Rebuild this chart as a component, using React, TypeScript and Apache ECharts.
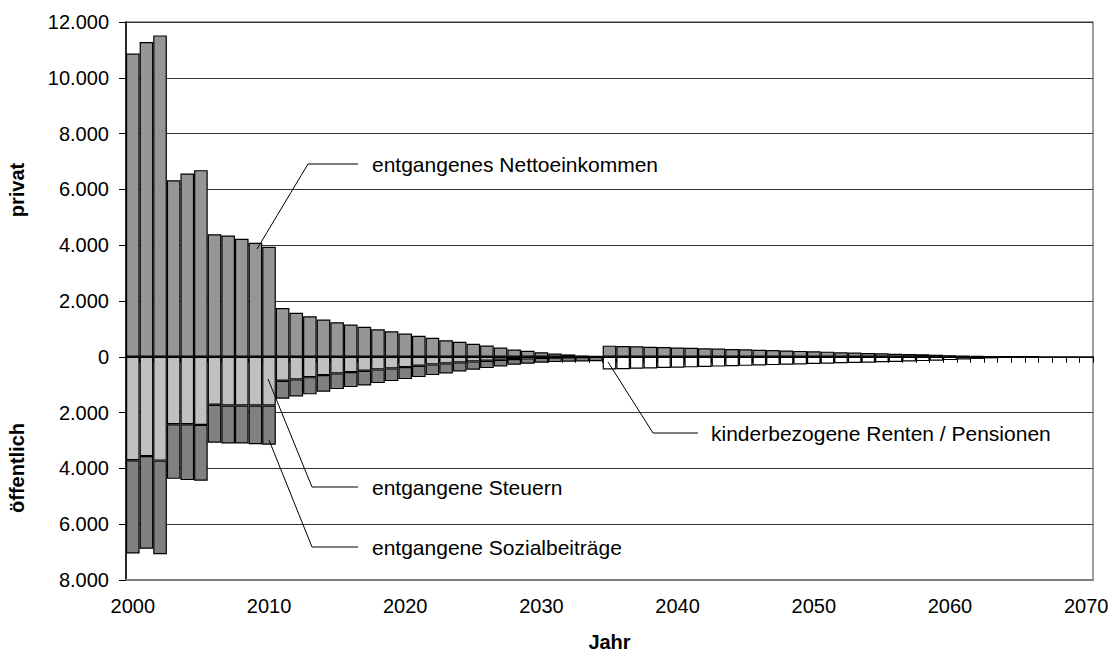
import React, { useEffect, useRef } from "react";
import * as echarts from "echarts";

const years = [
  "2000", "2001", "2002", "2003", "2004", "2005", "2006", "2007", "2008", "2009",
  "2010", "2011", "2012", "2013", "2014", "2015", "2016", "2017", "2018", "2019",
  "2020", "2021", "2022", "2023", "2024", "2025", "2026", "2027", "2028", "2029",
  "2030", "2031", "2032", "2033", "2034", "2035", "2036", "2037", "2038", "2039",
  "2040", "2041", "2042", "2043", "2044", "2045", "2046", "2047", "2048", "2049",
  "2050", "2051", "2052", "2053", "2054", "2055", "2056", "2057", "2058", "2059",
  "2060", "2061", "2062", "2063", "2064", "2065", "2066", "2067", "2068", "2069",
  "2070",
];

// private side (positive), from 2000
const nettoeinkommen = [
  10870, 11280, 11520, 6330, 6570, 6690, 4395, 4350, 4230, 4085,
  3945, 1745, 1577, 1455, 1337, 1240, 1158, 1075, 990, 918,
  835, 753, 681, 595, 538, 466, 405, 333, 262, 215,
  165, 120, 85, 50, 25,
];

// public side (shown below zero), from 2000
const steuern = [
  3710, 3560, 3720, 2420, 2420, 2440, 1720, 1745, 1745, 1745,
  1745, 860, 810, 730, 656, 595, 548, 502, 452, 416,
  369, 323, 272, 237, 201, 165, 143, 108, 82, 57,
  40, 25, 15, 8, 4,
];

const sozialbeitraege = [
  3340, 3320, 3355, 1955, 2000, 2005, 1360, 1365, 1365, 1385,
  1410, 645, 610, 615, 598, 563, 538, 523, 491, 455,
  430, 405, 384, 358, 322, 301, 262, 236, 205, 194,
  175, 165, 160, 157, 156,
];

// child-related pensions, from 2035
const rentenPrivat = [
  400, 388, 375, 362, 349, 336, 322, 309, 295, 281,
  268, 254, 240, 226, 212, 198, 184, 165, 150, 138,
  125, 112, 100, 88, 74, 58, 42, 30, 18, 10,
  5, 2,
];

const rentenOeffentlich = [
  455, 443, 430, 417, 404, 391, 378, 365, 351, 338,
  324, 311, 298, 285, 272, 258, 245, 233, 221, 209,
  197, 185, 170, 155, 138, 118, 97, 76, 56, 38,
  22, 10,
];

const FONT = "'Liberation Sans', Arial, Helvetica, sans-serif";

function align(values: number[], startYear: number, sign: number) {
  return years.map((y) => {
    const i = Number(y) - startYear;
    return i >= 0 && i < values.length ? sign * values[i] : null;
  });
}

function fmt(v: number) {
  return String(Math.abs(v)).replace(/\B(?=(\d{3})+(?!\d))/g, ".");
}

const barBase = {
  type: "bar",
  stack: "all",
  xAxisIndex: 0,
  barCategoryGap: "0%",
};

function border(color: string) {
  return { color, borderColor: "#000", borderWidth: 1.2 };
}

const textStyle = (text: string) => ({
  text,
  fontSize: 21,
  fontFamily: FONT,
  fill: "#000",
  align: "left",
  verticalAlign: "middle",
});

export default function App() {
  const ref = useRef<HTMLDivElement>(null);
  useEffect(() => {
    if (!ref.current) return;
    const chart = echarts.init(ref.current, undefined, { renderer: "svg" });
    chart.setOption({
      animation: false,
      backgroundColor: "#fff",
      grid: {
        left: 126,
        right: 19,
        top: 22,
        bottom: 76,
        show: true,
        borderColor: "#808080",
        borderWidth: 1.5,
      },
      xAxis: [
        {
          type: "category",
          data: years,
          position: "bottom",
          boundaryGap: true,
          axisLine: { onZero: false, lineStyle: { color: "#808080", width: 2 } },
          axisTick: { show: false },
          axisLabel: { interval: 9, color: "#000", fontSize: 20, fontFamily: FONT, margin: 16 },
          splitLine: { show: false },
          name: "Jahr",
          nameLocation: "middle",
          nameGap: 52,
          nameTextStyle: { fontWeight: "bold", fontSize: 20, color: "#000", fontFamily: FONT },
        },
        {
          type: "category",
          data: years,
          position: "top",
          boundaryGap: true,
          axisLine: { onZero: true, lineStyle: { color: "#000", width: 1.5 } },
          axisTick: { show: true, inside: true, interval: 0, length: 6, lineStyle: { color: "#000", width: 1 } },
          axisLabel: { show: false },
          splitLine: { show: false },
        },
      ],
      yAxis: {
        type: "value",
        min: -8000,
        max: 12000,
        interval: 2000,
        axisLine: { show: true, lineStyle: { color: "#000", width: 1.5 } },
        axisTick: { show: true, length: 7, lineStyle: { color: "#000", width: 1 } },
        axisLabel: { formatter: fmt, color: "#000", fontSize: 20, fontFamily: FONT, margin: 17 },
        splitLine: { show: true, lineStyle: { color: "#333", width: 1 } },
      },
      series: [
        { ...barBase, name: "entgangenes Nettoeinkommen", data: align(nettoeinkommen, 2000, 1), itemStyle: border("#969696") },
        { ...barBase, name: "kinderbezogene Renten (privat)", data: align(rentenPrivat, 2035, 1), itemStyle: border("#969696") },
        { ...barBase, name: "entgangene Steuern", data: align(steuern, 2000, -1), itemStyle: border("#c0c0c0") },
        { ...barBase, name: "entgangene Sozialbeiträge", data: align(sozialbeitraege, 2000, -1), itemStyle: border("#808080") },
        { ...barBase, name: "kinderbezogene Renten / Pensionen", data: align(rentenOeffentlich, 2035, -1), itemStyle: border("#ffffff") },
      ],
      graphic: [
        { type: "polyline", z: 100, shape: { points: [[257, 249], [308, 164], [358, 164]] }, style: { stroke: "#000", lineWidth: 1, fill: "none" } },
        { type: "text", z: 100, x: 372, y: 164, style: textStyle("entgangenes Nettoeinkommen") },
        { type: "polyline", z: 100, shape: { points: [[268, 379], [312, 487], [358, 487]] }, style: { stroke: "#000", lineWidth: 1, fill: "none" } },
        { type: "text", z: 100, x: 372, y: 487, style: textStyle("entgangene Steuern") },
        { type: "polyline", z: 100, shape: { points: [[269, 440], [312, 547], [358, 547]] }, style: { stroke: "#000", lineWidth: 1, fill: "none" } },
        { type: "text", z: 100, x: 372, y: 547, style: textStyle("entgangene Sozialbeiträge") },
        { type: "polyline", z: 100, shape: { points: [[608, 362], [653, 433], [698, 433]] }, style: { stroke: "#000", lineWidth: 1, fill: "none" } },
        { type: "text", z: 100, x: 711, y: 433, style: textStyle("kinderbezogene Renten / Pensionen") },
        {
          type: "text", z: 100, x: 17, y: 190, rotation: Math.PI / 2,
          style: { text: "privat", fontSize: 20, fontWeight: "bold", fontFamily: FONT, fill: "#000", align: "center", verticalAlign: "middle" },
        },
        {
          type: "text", z: 100, x: 17, y: 468, rotation: Math.PI / 2,
          style: { text: "öffentlich", fontSize: 20, fontWeight: "bold", fontFamily: FONT, fill: "#000", align: "center", verticalAlign: "middle" },
        },
      ],
    });
    return () => chart.dispose();
  }, []);
  return (
    <div
      ref={ref}
      style={{ position: "absolute", left: 0, top: 0, width: 1112, height: 657 }}
    />
  );
}
